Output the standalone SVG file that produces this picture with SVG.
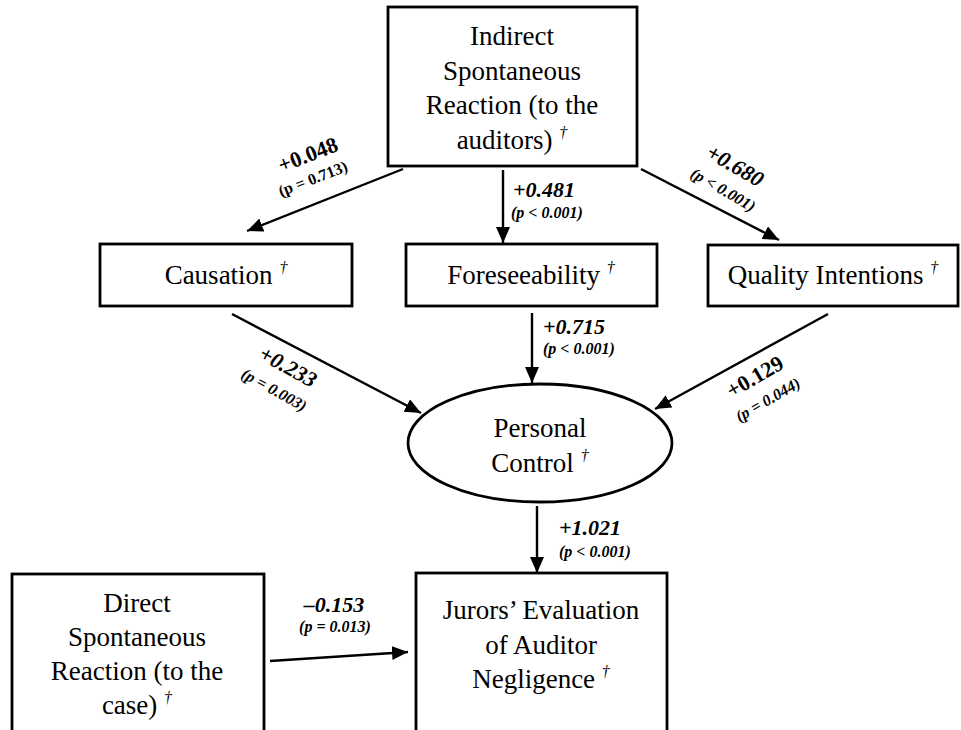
<svg xmlns="http://www.w3.org/2000/svg" width="961" height="730" viewBox="0 0 961 730">
<style>
.box{fill:#fff;stroke:#000;stroke-width:2.8}
.t{font-family:"Liberation Serif","Times New Roman",serif;font-size:27px;text-anchor:middle;fill:#000}
.dg{font-size:16px;font-style:italic}
.c{font-family:"Liberation Serif","Times New Roman",serif;font-weight:bold;font-style:italic;font-size:22px;fill:#000}
.p{font-family:"Liberation Serif","Times New Roman",serif;font-weight:bold;font-style:italic;font-size:16px;fill:#000}
.up{font-style:normal}
.e{stroke:#000;stroke-width:2.4;fill:none;marker-end:url(#ah)}
</style>
<defs>
<marker id="ah" markerUnits="userSpaceOnUse" markerWidth="18" markerHeight="16" refX="16" refY="7" orient="auto">
<path d="M0,0 L16,7 L0,14 z" fill="#000"/>
</marker>
</defs>
<rect width="961" height="730" fill="#fff"/>
<g id="connectors">
<line class="e" x1="403" y1="169" x2="247" y2="231"/>
<line class="e" x1="503" y1="170" x2="503" y2="243"/>
<line class="e" x1="641" y1="169" x2="779" y2="240"/>
<line class="e" x1="232" y1="314" x2="421" y2="413"/>
<line class="e" x1="532" y1="313" x2="532" y2="383"/>
<line class="e" x1="828" y1="314" x2="655" y2="409"/>
<line class="e" x1="537" y1="506" x2="537" y2="573"/>
<line class="e" x1="270" y1="661" x2="408" y2="652"/>
</g>
<g id="edge-labels">
<g transform="translate(308,155) rotate(-21)"><text class="c up" x="0" y="7" text-anchor="middle">+0.048</text></g>
<g transform="translate(313,179) rotate(-21)"><text class="p up" x="0" y="5" text-anchor="middle">(p = 0.713)</text></g>
<text class="c" x="513" y="197">+0.481</text>
<text class="p" x="511" y="218">(p &lt; 0.001)</text>
<g transform="translate(735,166) rotate(30)"><text class="c" x="0" y="7" text-anchor="middle">+0.680</text></g>
<g transform="translate(723,190) rotate(30)"><text class="p" x="0" y="5" text-anchor="middle">(p &lt; 0.001)</text></g>
<text class="c" x="543" y="334">+0.715</text>
<text class="p" x="543" y="354">(p &lt; 0.001)</text>
<g transform="translate(288,367) rotate(29)"><text class="c" x="0" y="7" text-anchor="middle">+0.233</text></g>
<g transform="translate(274,390) rotate(29)"><text class="p" x="0" y="5" text-anchor="middle">(p = 0.003)</text></g>
<g transform="translate(755,377) rotate(-30)"><text class="c up" x="0" y="7" text-anchor="middle">+0.129</text></g>
<g transform="translate(768,400) rotate(-30)"><text class="p" x="0" y="5" text-anchor="middle">(p = 0.044)</text></g>
<text class="c" x="559" y="535">+1.021</text>
<text class="p" x="559" y="557">(p &lt; 0.001)</text>
<text class="c" x="334" y="612" text-anchor="middle">–0.153</text>
<text class="p" x="335" y="632" text-anchor="middle">(p = 0.013)</text>
</g>
<g id="indirect">
<rect class="box" x="388" y="7" width="249" height="159"/>
<text class="t" x="512" y="45">Indirect</text>
<text class="t" x="512" y="80">Spontaneous</text>
<text class="t" x="512" y="114">Reaction (to the</text>
<text class="t" x="512" y="149">auditors) <tspan class="dg" dy="-11">†</tspan></text>
</g>
<g id="causation">
<rect class="box" x="100" y="244" width="252" height="62"/>
<text class="t" x="226" y="284">Causation <tspan class="dg" dy="-11">†</tspan></text>
</g>
<g id="foreseeability">
<rect class="box" x="406" y="244" width="251" height="62"/>
<text class="t" x="531" y="284">Foreseeability <tspan class="dg" dy="-11">†</tspan></text>
</g>
<g id="quality">
<rect class="box" x="708" y="245" width="250" height="61"/>
<text class="t" x="833" y="284">Quality Intentions <tspan class="dg" dy="-11">†</tspan></text>
</g>
<g id="control">
<ellipse class="box" cx="540" cy="443" rx="132" ry="59"/>
<text class="t" x="540" y="437">Personal</text>
<text class="t" x="540" y="472">Control <tspan class="dg" dy="-11">†</tspan></text>
</g>
<g id="jurors">
<rect class="box" x="416" y="573" width="251" height="200"/>
<text class="t" x="541" y="619">Jurors’ Evaluation</text>
<text class="t" x="541" y="654">of Auditor</text>
<text class="t" x="541" y="688">Negligence <tspan class="dg" dy="-11">†</tspan></text>
</g>
<g id="direct">
<rect class="box" x="12" y="574" width="252" height="200"/>
<text class="t" x="137" y="612">Direct</text>
<text class="t" x="137" y="646">Spontaneous</text>
<text class="t" x="137" y="680">Reaction (to the</text>
<text class="t" x="137" y="714">case) <tspan class="dg" dy="-11">†</tspan></text>
</g>
</svg>
